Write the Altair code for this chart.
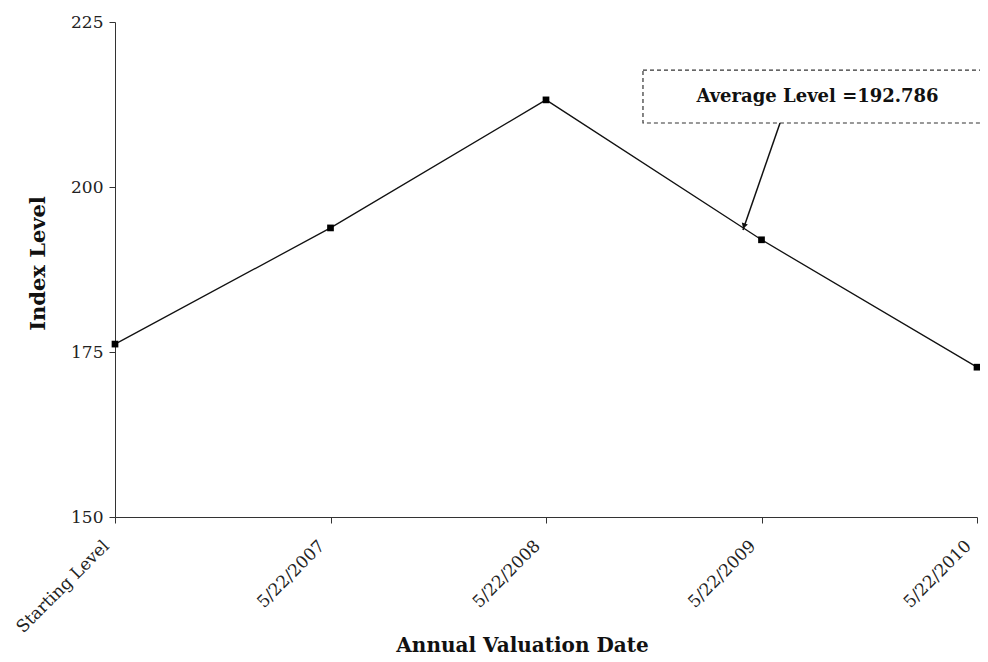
import altair as alt
import pandas as pd

# data
categories = ["Starting Level", "5/22/2007", "5/22/2008", "5/22/2009", "5/22/2010"]
positions = [0, 1, 2, 3, 4]
index_levels = [176.2, 193.8, 213.2, 192.0, 172.7]

# annotation (in data units)
box_x = [2.45]
box_x2 = [4.1]
box_y = [217.7]
box_y2 = [209.7]
label_text = ["Average Level =192.786"]
label_x = [3.26]
label_y = [213.6]
arrow_from = [3.086, 209.7]
arrow_to = [2.914, 193.5]
arrow_head = [2.92, 194.2]

FONT = "DejaVu Serif"

df = pd.DataFrame({"pos": positions, "level": index_levels, "cat": categories})

label_expr = "[" + ",".join(f"'{c}'" for c in categories) + "][datum.value]"

x_enc = alt.X(
    "pos:Q",
    scale=alt.Scale(domain=[0, 4], nice=False, zero=False),
    axis=alt.Axis(
        values=positions,
        labelExpr=label_expr,
        labelAngle=-45,
        labelAlign="right",
        labelBaseline="middle",
        labelFont=FONT,
        labelFontSize=17,
        labelColor="#222",
        labelPadding=20,
        labelOffset=-9,
        tickSize=6,
        tickColor="#333",
        domainColor="#333",
        grid=False,
        labelOverlap=False,
        labelBound=False,
        title="Annual Valuation Date",
        titleFont=FONT,
        titleFontSize=20,
        titleFontWeight="bold",
        titleColor="#111",
        titleX=407,
        titleY=128,
        titleBaseline="middle",
    ),
)
y_enc = alt.Y(
    "level:Q",
    scale=alt.Scale(domain=[150, 225], nice=False, zero=False),
    axis=alt.Axis(
        values=[150, 175, 200, 225],
        labelFont=FONT,
        labelFontSize=17,
        labelColor="#222",
        labelPadding=6,
        tickSize=6,
        tickColor="#333",
        domainColor="#333",
        grid=False,
        title="Index Level",
        titleFont=FONT,
        titleFontSize=21,
        titleFontWeight="bold",
        titleColor="#111",
        titleX=-77,
        titleY=241,
        titleAngle=-90,
        titleBaseline="middle",
    ),
)

line = alt.Chart(df).mark_line(color="#111", strokeWidth=1.3).encode(x=x_enc, y=y_enc)
pts = alt.Chart(df).mark_point(shape="square", filled=True, color="#000", size=45, opacity=1).encode(
    x="pos:Q", y="level:Q"
)

box_df = pd.DataFrame({"x": box_x, "x2": box_x2, "y": box_y, "y2": box_y2})
box = alt.Chart(box_df).mark_rect(
    fill="white", stroke="#333", strokeWidth=1.2, strokeDash=[4, 3], clip=False
).encode(x="x:Q", x2="x2:Q", y="y:Q", y2="y2:Q")

txt_df = pd.DataFrame({"x": label_x, "y": label_y, "t": label_text})
txt = alt.Chart(txt_df).mark_text(
    font=FONT, fontSize=18, fontWeight="bold", color="#111", align="center", baseline="middle"
).encode(x="x:Q", y="y:Q", text="t:N")

arr_df = pd.DataFrame({"x": [arrow_from[0]], "y": [arrow_from[1]], "x2": [arrow_to[0]], "y2": [arrow_to[1]]})
arrow = alt.Chart(arr_df).mark_rule(color="#111", strokeWidth=1.5).encode(
    x="x:Q", y="y:Q", x2="x2:Q", y2="y2:Q"
)
head_df = pd.DataFrame({"x": [arrow_head[0]], "y": [arrow_head[1]]})
head = alt.Chart(head_df).mark_point(
    shape="triangle", filled=True, color="#111", size=40, angle=199, opacity=1
).encode(x="x:Q", y="y:Q")

chart = (
    alt.layer(line, pts, box, txt, arrow, head)
    .properties(
        width=862,
        height=495,
        autosize=alt.AutoSizeParams(type="none"),
        padding={"left": 107, "top": 14, "right": 3, "bottom": 139},
        background="white",
    )
    .configure_view(stroke=None)
)

chart.save("out.html", embed_options={"renderer": "svg", "actions": False})
